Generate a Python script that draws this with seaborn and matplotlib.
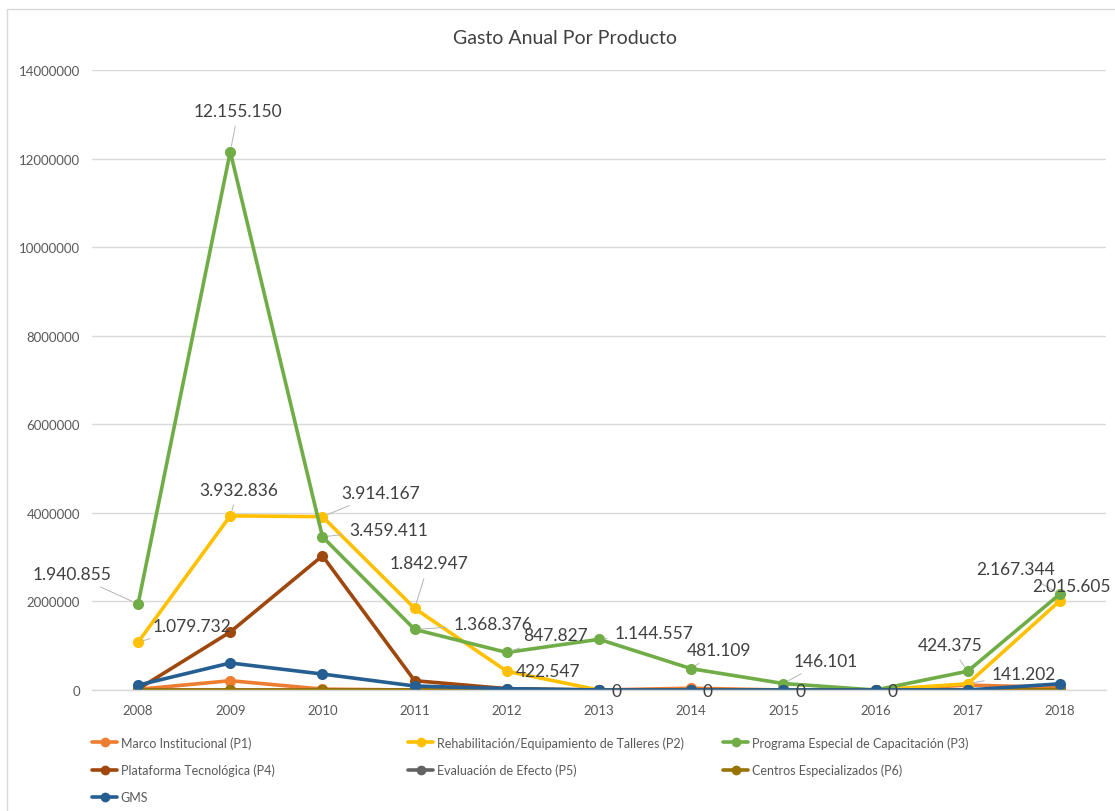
import matplotlib
matplotlib.use("Agg")
import matplotlib.pyplot as plt
from matplotlib.lines import Line2D
from matplotlib.patches import Rectangle
import seaborn as sns
import pandas as pd

# ---- data -------------------------------------------------------------
years = [2008, 2009, 2010, 2011, 2012, 2013, 2014, 2015, 2016, 2017, 2018]

series_names = [
    "Marco Institucional (P1)",
    "Rehabilitación/Equipamiento de Talleres (P2)",
    "Programa Especial de Capacitación (P3)",
    "Plataforma Tecnológica (P4)",
    "Evaluación de Efecto (P5)",
    "Centros Especializados (P6)",
    "GMS",
]

p1 = [15000, 210000, 20000, 0, 0, 0, 40000, 0, 0, 110000, 60000]
p2 = [1079732, 3932836, 3914167, 1842947, 422547, 0, 0, 0, 0, 141202, 2015605]
p3 = [1940855, 12155150, 3459411, 1368376, 847827, 1144557, 481109, 146101, 0, 424375, 2167344]
p4 = [20000, 1310000, 3030000, 210000, 30000, 0, 0, 0, 0, 0, 0]
p5 = [0, 0, 0, 0, 0, 0, 0, 0, 0, 0, 0]
p6 = [0, 0, 0, 0, 0, 0, 0, 0, 0, 0, 10000]
gms = [110000, 610000, 360000, 90000, 30000, 0, 0, 0, 0, 0, 140000]

all_values = [p1, p2, p3, p4, p5, p6, gms]

colors = ["#ED7D31", "#FFC000", "#70AD47", "#9E480E", "#636363", "#997300", "#255E91"]

# labelled points: (year index, label offset in pixels)
labels_p3 = [(0, (-66, 30)), (1, (8, 41)), (2, (66, 7)), (3, (78, 5)), (4, (49, 17)),
             (5, (55, 6)), (6, (28, 19)), (7, (42, 23)), (9, (-18, 26)), (10, (-44, 25))]
labels_p2 = [(0, (54, 16)), (1, (8, 26)), (2, (58, 24)), (3, (14, 45)), (4, (41, 0)),
             (5, (17, -1)), (6, (16, -1)), (7, (17, -1)), (8, (17, -1)), (9, (56, 10)),
             (10, (12, 15))]

# ---- figure -----------------------------------------------------------
W, H = 1115, 812
fig = plt.figure(figsize=(W / 100, H / 100), dpi=100)
sns.set_style("white")
plt.rcParams["font.family"] = ["Lato", "DejaVu Sans"]

ax = fig.add_axes([92 / W, 1 - 691 / H, (1106 - 92) / W, (691 - 71) / H])

# outer chart border
fig.patches.append(Rectangle((7 / W, -0.01), 1.0, 1 - 10 / H + 0.01, transform=fig.transFigure,
                             fill=False, edgecolor="#D9D9D9", linewidth=1.0, zorder=0))

rows = []
for name, vals in zip(series_names, all_values):
    for i, v in enumerate(vals):
        rows.append({"serie": name, "pos": i, "valor": v})
df = pd.DataFrame(rows)

sns.lineplot(data=df, x="pos", y="valor", hue="serie", hue_order=series_names,
             palette=colors, marker="o", markersize=8, markeredgewidth=0,
             linewidth=2.6, legend=False, sort=False, ax=ax)

ax.set_xlim(-0.5, len(years) - 0.5)
ax.set_ylim(0, 14000000)
ax.set_yticks(range(0, 14000001, 2000000))
ax.set_yticklabels([str(v) for v in range(0, 14000001, 2000000)])
ax.set_xticks(range(len(years)))
ax.set_xticklabels([str(y) for y in years])
ax.tick_params(axis="both", length=0, labelsize=9.5, labelcolor="#595959")
ax.tick_params(axis="y", pad=8.5)
ax.tick_params(axis="x", pad=10)
ax.set_xlabel("")
ax.set_ylabel("")
ax.grid(axis="y", color="#D9D9D9", linewidth=1.0)
ax.set_axisbelow(True)
for side in ["top", "right", "left"]:
    ax.spines[side].set_visible(False)
ax.spines["bottom"].set_color("#D9D9D9")
ax.spines["bottom"].set_linewidth(1.0)


def fmt(v):
    return f"{v:,}".replace(",", ".")


def add_labels(values, spec):
    for i, (dx, dy) in spec:
        v = values[i]
        far = (dx * dx + dy * dy) ** 0.5 > 24
        ax.annotate(fmt(v), xy=(i, v), xytext=(dx, dy), textcoords="offset pixels",
                    ha="center", va="center", fontsize=12.5, color="#404040",
                    annotation_clip=False,
                    arrowprops=dict(arrowstyle="-", color="#B4B4B4", lw=0.7,
                                    shrinkA=3, shrinkB=4) if far else None,
                    zorder=10)


add_labels(p3, labels_p3)
add_labels(p2, labels_p2)

fig.text(0.507, 1 - 38 / H, "Gasto Anual Por Producto", ha="center", va="center",
         fontsize=14, color="#404040")

# legend, laid out in three columns
def handle(c):
    return Line2D([], [], color=c, linewidth=2.6, marker="o", markersize=7, markeredgewidth=0)

columns = [([0, 3, 6], 92), ([1, 4], 408), ([2, 5], 723)]
for idx, x0 in columns:
    fig.legend([handle(colors[k]) for k in idx], [series_names[k] for k in idx],
               loc="upper left", bbox_to_anchor=(x0 / W, 1 - 737 / H),
               frameon=False, fontsize=9, labelcolor="#595959",
               handlelength=2.0, handletextpad=0.3, labelspacing=1.2,
               borderaxespad=0, borderpad=0)

fig.savefig("out.png", dpi=100)
